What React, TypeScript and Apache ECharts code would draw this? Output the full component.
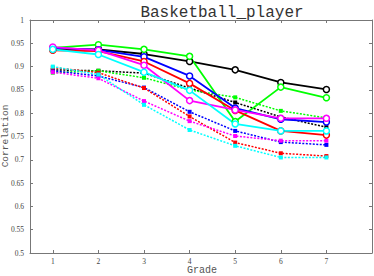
import React, { useEffect, useRef } from "react";
import * as echarts from "echarts";

const grades = [1, 2, 3, 4, 5, 6, 7];
const yTicks = [0.5, 0.55, 0.6, 0.65, 0.7, 0.75, 0.8, 0.85, 0.9, 0.95, 1];

const colors = ["#000000", "#00ff00", "#0000ff", "#ff0000", "#ff00ff", "#00ffff"];

const solidBlack = [0.937, 0.937, 0.927, 0.911, 0.893, 0.866, 0.851];
const solidGreen = [0.94, 0.947, 0.937, 0.922, 0.782, 0.856, 0.833];
const solidBlue = [0.94, 0.936, 0.921, 0.88, 0.811, 0.787, 0.781];
const solidRed = [0.935, 0.933, 0.911, 0.864, 0.806, 0.762, 0.753];
const solidMagenta = [0.942, 0.935, 0.903, 0.827, 0.807, 0.789, 0.789];
const solidCyan = [0.937, 0.926, 0.888, 0.849, 0.777, 0.762, 0.762];

const dotBlack = [0.893, 0.891, 0.886, 0.854, 0.823, 0.792, 0.77];
const dotGreen = [0.887, 0.891, 0.876, 0.85, 0.834, 0.805, 0.79];
const dotBlue = [0.891, 0.88, 0.855, 0.803, 0.762, 0.738, 0.732];
const dotRed = [0.898, 0.887, 0.854, 0.793, 0.737, 0.714, 0.708];
const dotMagenta = [0.888, 0.875, 0.826, 0.783, 0.751, 0.741, 0.741];
const dotCyan = [0.9, 0.883, 0.818, 0.764, 0.73, 0.705, 0.705];

const solidSets = [solidBlack, solidGreen, solidBlue, solidRed, solidMagenta, solidCyan];
const dotSets = [dotBlack, dotGreen, dotBlue, dotRed, dotMagenta, dotCyan];

const xName = "Grade";
const yName = "Correlation";

const axisGray = "#777777";
const labelGray = "#444444";

export default function App() {
  const ref = useRef<HTMLDivElement>(null);
  useEffect(() => {
    if (!ref.current) return;
    const chart = echarts.init(ref.current, null, { renderer: "svg" });
    const series: any[] = [];
    dotSets.forEach((d, i) => {
      series.push({
        type: "line",
        data: d.map((v, k) => [grades[k], v]),
        symbol: "rect",
        symbolSize: 4,
        lineStyle: { color: colors[i], width: 1.5, type: [2, 1.5] },
        itemStyle: { color: colors[i], borderWidth: 0 },
        z: 2,
      });
    });
    solidSets.forEach((d, i) => {
      series.push({
        type: "line",
        data: d.map((v, k) => [grades[k], v]),
        symbol: "circle",
        symbolSize: 6,
        showAllSymbol: true,
        lineStyle: { color: colors[i], width: 1.8 },
        itemStyle: { color: "#ffffff", borderColor: colors[i], borderWidth: 1.5 },
        z: 3,
      });
    });
    const tickStyle = { lineStyle: { color: axisGray, width: 1 } };
    chart.setOption({
      animation: false,
      backgroundColor: "#ffffff",
      title: {
        text: "Basketball_player",
        left: 217,
        top: 0,
        textAlign: "center",
        textStyle: { fontFamily: "Liberation Mono", fontSize: 16, fontWeight: "normal", color: "#333333" },
      },
      graphic: [
        {
          type: "text",
          x: 202,
          y: 270,
          style: {
            text: xName,
            fontFamily: "Liberation Mono",
            fontSize: 10,
            fill: "#555555",
            textAlign: "center",
            textVerticalAlign: "middle",
          },
        },
        {
          type: "text",
          x: 5,
          y: 136,
          rotation: Math.PI / 2,
          style: {
            text: yName,
            fontFamily: "Liberation Mono",
            fontSize: 9.5,
            fill: "#555555",
            textAlign: "center",
            textVerticalAlign: "middle",
          },
        },
      ],
      grid: { left: 30, right: 2, top: 20, bottom: 23, containLabel: false, outerBoundsMode: "none" },
      xAxis: [
        {
          type: "value",
          min: 0.5,
          max: 8,
          axisLine: { lineStyle: { color: axisGray } },
          axisTick: { inside: true, length: 3, customValues: grades, ...tickStyle },
          axisLabel: { customValues: grades, fontFamily: "Liberation Serif", fontSize: 7.5, color: labelGray, margin: 4 },
          splitLine: { show: false },
        },
        {
          type: "value",
          position: "top",
          min: 0.5,
          max: 8,
          axisLine: { show: true, lineStyle: { color: axisGray } },
          axisTick: { inside: true, length: 3, customValues: grades, ...tickStyle },
          axisLabel: { show: false },
          splitLine: { show: false },
        },
      ],
      yAxis: [
        {
          type: "value",
          min: 0.5,
          max: 1,
          interval: 0.05,
          axisLine: { show: true, lineStyle: { color: axisGray } },
          axisTick: { show: true, inside: true, length: 3, ...tickStyle },
          axisLabel: {
            fontFamily: "Liberation Serif",
            fontSize: 7.5,
            color: labelGray,
            margin: 6,
            formatter: (v: number) => {
              const t = yTicks.find((x) => Math.abs(x - v) < 1e-6);
              return t === undefined ? "" : String(parseFloat(t.toFixed(2)));
            },
          },
          splitLine: { show: false },
        },
        {
          type: "value",
          position: "right",
          min: 0.5,
          max: 1,
          interval: 0.05,
          axisLine: { show: true, lineStyle: { color: axisGray } },
          axisTick: { show: true, inside: true, length: 3, ...tickStyle },
          axisLabel: { show: false },
          splitLine: { show: false },
        },
      ],
      series,
    });
    return () => chart.dispose();
  }, []);
  return <div ref={ref} style={{ width: 374, height: 276, position: "absolute", left: 0, top: 0 }} />;
}
